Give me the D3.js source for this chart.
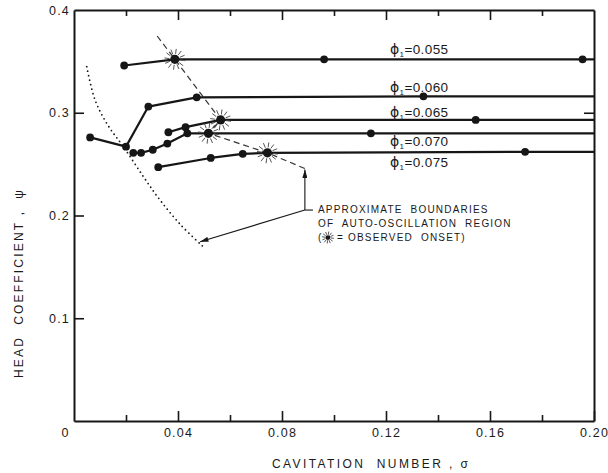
<!DOCTYPE html>
<html><head><meta charset="utf-8">
<script src="https://cdn.jsdelivr.net/npm/d3@7"></script>
<style>
html,body{margin:0;padding:0;background:#fff;}
svg{display:block;}
text{font-family:"Liberation Sans", Arial, sans-serif; fill:#1a1a1a;}
</style></head><body>
<svg id="chart" width="608" height="473"></svg>
<script>
// ---------- data ----------
const xTicks = [0, 0.02, 0.04, 0.06, 0.08, 0.10, 0.12, 0.14, 0.16, 0.18, 0.20];
const xTickLabels = ["0", "", "0.04", "", "0.08", "", "0.12", "", "0.16", "", "0.20"];
const yTicks = [0.1, 0.2, 0.3, 0.4];
const yTickLabels = ["0.1", "0.2", "0.3", "0.4"];
const rightTicks = [0.3];

const phiLabels = ["0.055", "0.060", "0.065", "0.070", "0.075"];

const sigma055 = [0.0193, 0.0388, 0.0962, 0.1956];
const psi055   = [0.346, 0.352, 0.352, 0.352];
const sigma060 = [0.0062, 0.0200, 0.0286, 0.0472, 0.1344];
const psi060   = [0.276, 0.267, 0.306, 0.315, 0.316];
const sigma065 = [0.0363, 0.0429, 0.0564, 0.1545];
const psi065   = [0.281, 0.286, 0.293, 0.293];
const sigma070 = [0.0228, 0.0258, 0.0303, 0.0359, 0.0436, 0.0517, 0.1142];
const psi070   = [0.261, 0.261, 0.264, 0.270, 0.280, 0.280, 0.280];
const sigma075 = [0.0324, 0.0526, 0.0649, 0.0744, 0.1735];
const psi075   = [0.247, 0.256, 0.260, 0.261, 0.262];

// index of observed onset point (star) in each series, -1 = none
const onsetIndex = [1, -1, 2, 5, 3];

// curve label anchor (sigma, psi) for each series
const labelSigma = [0.1215, 0.1215, 0.1215, 0.1215, 0.1215];
const labelPsi   = [0.3572, 0.3202, 0.2959, 0.2676, 0.2472];

// boundaries of auto-oscillation region
const dashedSigma = [0.0320, 0.0388, 0.0564, 0.0517, 0.0744, 0.0888];
const dashedPsi   = [0.3747, 0.352, 0.293, 0.280, 0.261, 0.2457];
const dottedSigma = [0.0049, 0.0081, 0.0130, 0.0190, 0.0267, 0.0331, 0.0410, 0.0497];
const dottedPsi   = [0.3448, 0.3124, 0.2880, 0.2670, 0.2378, 0.2150, 0.1910, 0.1696];

// callout
const calloutSigma = [0.0888, 0.0888, 0.0919];
const calloutPsi   = [0.2457, 0.2053, 0.2053];
const calloutTip   = [0.0485, 0.1745];
const noteLines = ["APPROXIMATE  BOUNDARIES", "OF  AUTO-OSCILLATION  REGION", "= OBSERVED  ONSET)"];

// ---------- layout ----------
const W = 608, H = 473;
const x = d3.scaleLinear().domain([0, 0.20]).range([74, 594]);
const y = d3.scaleLinear().domain([0, 0.40]).range([421, 10]);
const svg = d3.select("#chart");
const ink = "#161616";

svg.append("rect").attr("width", W).attr("height", H).attr("fill", "#fff");

const defs = svg.append("defs");
defs.append("marker").attr("id", "arr").attr("viewBox", "0 0 10 6")
  .attr("refX", 10).attr("refY", 3).attr("markerWidth", 9).attr("markerHeight", 5)
  .attr("markerUnits", "userSpaceOnUse").attr("orient", "auto")
  .append("path").attr("d", "M0,0 L10,3 L0,6 Z").attr("fill", ink);

// ---------- axes ----------
const xAxis = d3.axisBottom(x).tickValues(xTicks).tickSizeInner(-10).tickSizeOuter(0)
  .tickPadding(7).tickFormat((d, i) => xTickLabels[i]);
const gx = svg.append("g").attr("transform", `translate(0,${y(0)})`).call(xAxis);
gx.selectAll(".tick line").attr("y2", (d, i) => xTickLabels[i] ? -10 : -6);
gx.selectAll(".tick").filter((d, i) => i === 0).select("line").remove();
gx.selectAll(".tick text").attr("x", (d, i) => i === 0 ? -9 : 0);

const xTop = d3.axisTop(x).tickValues(xTicks).tickSizeInner(-10).tickSizeOuter(0).tickFormat("");
const gxt = svg.append("g").attr("transform", `translate(0,${y(0.4)})`).call(xTop);
gxt.selectAll(".tick line").attr("y2", (d, i) => xTickLabels[i] ? 10 : 6);
gxt.selectAll(".tick").filter((d, i) => i === 0 || i === xTicks.length - 1).remove();

const yAxis = d3.axisLeft(y).tickValues(yTicks).tickSizeInner(-10).tickSizeOuter(0)
  .tickPadding(4).tickFormat((d, i) => yTickLabels[i]);
const gy = svg.append("g").attr("transform", `translate(${x(0)},0)`).call(yAxis);
gy.selectAll(".tick").filter(d => d === 0.4).select("line").remove();

const yRight = d3.axisRight(y).tickValues(rightTicks).tickSizeInner(-10).tickSizeOuter(0).tickFormat("");
svg.append("g").attr("transform", `translate(${x(0.2)},0)`).call(yRight);

svg.selectAll(".domain").attr("stroke", ink).attr("stroke-width", 2);
svg.selectAll(".tick line").attr("stroke", ink).attr("stroke-width", 1.6);
svg.selectAll(".tick text").attr("font-size", 12.5).attr("letter-spacing", 1.2)
  .attr("font-family", '"Liberation Sans", Arial, sans-serif').attr("fill", ink);

// axis titles
svg.append("text").attr("x", 272).attr("y", 468).attr("text-anchor", "start")
  .attr("font-size", 12).attr("letter-spacing", 2.4).style("white-space", "pre")
  .text("CAVITATION  NUMBER , σ");
svg.append("text").attr("transform", `translate(23,283) rotate(-90)`)
  .attr("text-anchor", "middle").attr("font-size", 12).attr("letter-spacing", 2.2)
  .style("white-space", "pre").text("HEAD  COEFFICIENT ,  ψ");

// ---------- boundaries ----------
const dotted = dottedSigma.map((s, i) => [x(s), y(dottedPsi[i])]);
svg.append("path").attr("d", d3.line().curve(d3.curveCatmullRom)(dotted))
  .attr("fill", "none").attr("stroke", ink).attr("stroke-width", 1.8)
  .attr("stroke-linecap", "round").attr("stroke-dasharray", "0,4.6");

const dashed = dashedSigma.map((s, i) => [x(s), y(dashedPsi[i])]);
svg.append("path").attr("d", d3.line()(dashed))
  .attr("fill", "none").attr("stroke", "#333").attr("stroke-width", 1.2)
  .attr("stroke-dasharray", "6,4");

// ---------- series ----------
const series = [
  [sigma055, psi055], [sigma060, psi060], [sigma065, psi065], [sigma070, psi070], [sigma075, psi075]
];
const line = d3.line().x(d => x(d[0])).y(d => y(d[1]));
series.forEach(([sg, ps], k) => {
  const pts = sg.map((s, i) => [s, ps[i]]);
  pts.push([x.domain()[1], ps[ps.length - 1]]);
  svg.append("path").attr("d", line(pts)).attr("fill", "none")
    .attr("stroke", ink).attr("stroke-width", 2.2).attr("stroke-linejoin", "round");
});
function star(cx, cy) {
  const g = svg.append("g");
  for (let a = 0; a < 12; a++) {
    const t = a * Math.PI / 6 + 0.13;
    g.append("line")
      .attr("x1", cx + 5.5 * Math.cos(t)).attr("y1", cy + 5.5 * Math.sin(t))
      .attr("x2", cx + 10.5 * Math.cos(t)).attr("y2", cy + 10.5 * Math.sin(t))
      .attr("stroke", "#555").attr("stroke-width", 1);
  }
  g.append("circle").attr("cx", cx).attr("cy", cy).attr("r", 4.6).attr("fill", ink);
}
series.forEach(([sg, ps], k) => {
  sg.forEach((s, i) => {
    if (i === onsetIndex[k]) star(x(s), y(ps[i]));
    else svg.append("circle").attr("cx", x(s)).attr("cy", y(ps[i])).attr("r", 3.9).attr("fill", ink);
  });
  const t = svg.append("text").attr("x", x(labelSigma[k])).attr("y", y(labelPsi[k]))
    .attr("font-size", 13.5).attr("letter-spacing", 0.4);
  t.append("tspan").text("ϕ").attr("font-family", '"DejaVu Sans", sans-serif').attr("font-size", 14);
  t.append("tspan").text("1").attr("font-size", 8).attr("dy", 3);
  t.append("tspan").text("=" + phiLabels[k]).attr("dy", -3);
});

// ---------- callout ----------
svg.append("line").attr("x1", x(calloutSigma[1])).attr("y1", y(calloutPsi[1]))
  .attr("x2", x(calloutSigma[0])).attr("y2", y(calloutPsi[0]) + 1)
  .attr("stroke", ink).attr("stroke-width", 1.1).attr("marker-end", "url(#arr)");
svg.append("line").attr("x1", x(calloutSigma[1])).attr("y1", y(calloutPsi[1]))
  .attr("x2", x(calloutSigma[2])).attr("y2", y(calloutPsi[2]))
  .attr("stroke", ink).attr("stroke-width", 1.1);
svg.append("line").attr("x1", x(calloutSigma[1])).attr("y1", y(calloutPsi[1]))
  .attr("x2", x(calloutTip[0])).attr("y2", y(calloutTip[1]))
  .attr("stroke", ink).attr("stroke-width", 1.1).attr("marker-end", "url(#arr)");

const nx = x(calloutSigma[2]) + 5, ny = y(calloutPsi[2]) + 3;
noteLines.slice(0, 2).forEach((s, i) => {
  svg.append("text").attr("x", nx).attr("y", ny + i * 14).attr("font-size", 10)
    .attr("letter-spacing", 1.2).style("white-space", "pre").text(s);
});
svg.append("text").attr("x", nx).attr("y", ny + 28).attr("font-size", 10).text("(");
(function miniStar(cx, cy) {
  for (let a = 0; a < 12; a++) {
    const t = a * Math.PI / 6 + 0.13;
    svg.append("line")
      .attr("x1", cx + 2.8 * Math.cos(t)).attr("y1", cy + 2.8 * Math.sin(t))
      .attr("x2", cx + 6 * Math.cos(t)).attr("y2", cy + 6 * Math.sin(t))
      .attr("stroke", "#444").attr("stroke-width", 0.9);
  }
  svg.append("circle").attr("cx", cx).attr("cy", cy).attr("r", 2.4).attr("fill", ink);
})(nx + 10, ny + 24.5);
svg.append("text").attr("x", nx + 19).attr("y", ny + 28).attr("font-size", 10)
  .attr("letter-spacing", 1.2).style("white-space", "pre").text(noteLines[2]);
</script>
</body></html>
